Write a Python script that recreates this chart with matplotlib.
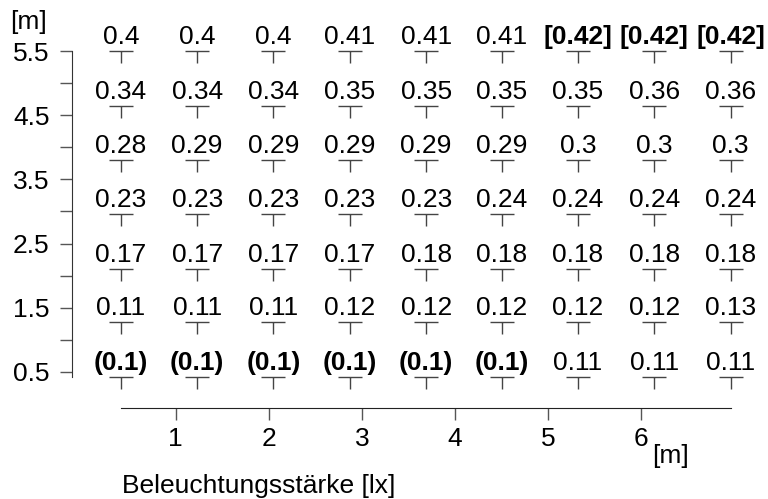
import matplotlib
matplotlib.use("Agg")
import matplotlib.pyplot as plt
from matplotlib.path import Path
import numpy as np

plt.rcParams['font.family'] = ['Liberation Sans', 'DejaVu Sans']

# measuring grid positions [m]
x_pos = [0.41, 1.23, 2.05, 2.87, 3.69, 4.50, 5.32, 6.14, 6.96]
y_pos = [5.50, 4.65, 3.81, 2.96, 2.11, 1.27, 0.42]

# illuminance values, rows from top to bottom
vals = [
    [0.4, 0.4, 0.4, 0.41, 0.41, 0.41, 0.42, 0.42, 0.42],
    [0.34, 0.34, 0.34, 0.35, 0.35, 0.35, 0.35, 0.36, 0.36],
    [0.28, 0.29, 0.29, 0.29, 0.29, 0.29, 0.3, 0.3, 0.3],
    [0.23, 0.23, 0.23, 0.23, 0.23, 0.24, 0.24, 0.24, 0.24],
    [0.17, 0.17, 0.17, 0.17, 0.18, 0.18, 0.18, 0.18, 0.18],
    [0.11, 0.11, 0.11, 0.12, 0.12, 0.12, 0.12, 0.12, 0.13],
    [0.1, 0.1, 0.1, 0.1, 0.1, 0.1, 0.11, 0.11, 0.11],
]

x_ticks = [1, 2, 3, 4, 5, 6]
y_ticks = [0.5, 1.0, 1.5, 2.0, 2.5, 3.0, 3.5, 4.0, 4.5, 5.0, 5.5]
y_ticklabels = ['0.5', '', '1.5', '', '2.5', '', '3.5', '', '4.5', '', '5.5']

fs = 19
W, H = 768, 499
fig = plt.figure(figsize=(W / 100, H / 100), dpi=100)
ax = fig.add_axes([72.3 / W, (H - 408.3) / H, 687.7 / W, 388.3 / H])
ax.set_xlim(-0.111, 7.276)
ax.set_ylim(-0.071, 5.987)

# T-shaped marker
tee = Path([(-1, 0), (1, 0), (0, 0), (0, -1)],
           [Path.MOVETO, Path.LINETO, Path.MOVETO, Path.LINETO])

arr = np.array(vals)
vmin, vmax = arr.min(), arr.max()
for r, yy in enumerate(y_pos):
    for c, xx in enumerate(x_pos):
        v = vals[r][c]
        ax.plot(xx, yy, marker=tee, markersize=17.3, color='#444444',
                markeredgewidth=1.0, linestyle='none')
        if v == vmin:
            s, w = f"({v:g})", 'bold'
        elif v == vmax:
            s, w = f"[{v:g}]", 'bold'
        else:
            s, w = f"{v:g}", 'normal'
        ax.annotate(s, (xx, yy), xytext=(0, 5), textcoords='offset points',
                    ha='center', va='baseline', fontsize=fs, fontweight=w)

for side in ['top', 'right']:
    ax.spines[side].set_visible(False)
ax.spines['left'].set_bounds(min(y_pos), max(y_pos))
ax.spines['bottom'].set_bounds(min(x_pos), max(x_pos))
ax.spines['left'].set_color('#333333')
ax.spines['bottom'].set_color('#222222')

ax.set_xticks(x_ticks)
ax.set_xticklabels([str(t) for t in x_ticks])
ax.set_yticks(y_ticks)
ax.set_yticklabels(y_ticklabels)
ax.tick_params(axis='both', length=8.5, width=1.0, color='#555555', labelsize=fs)
ax.tick_params(axis='x', pad=5)
ax.tick_params(axis='y', pad=8)

fig.text(29 / W, 1 - 22 / H, '[m]', ha='center', va='center', fontsize=fs)
fig.text(652 / W, 1 - 456 / H, '[m]', ha='left', va='center', fontsize=fs)
fig.text(122 / W, (H - 493.3) / H, 'Beleuchtungsstärke [lx]', ha='left',
         va='baseline', fontsize=fs)

plt.savefig('out.png', dpi=100)
plt.close()
